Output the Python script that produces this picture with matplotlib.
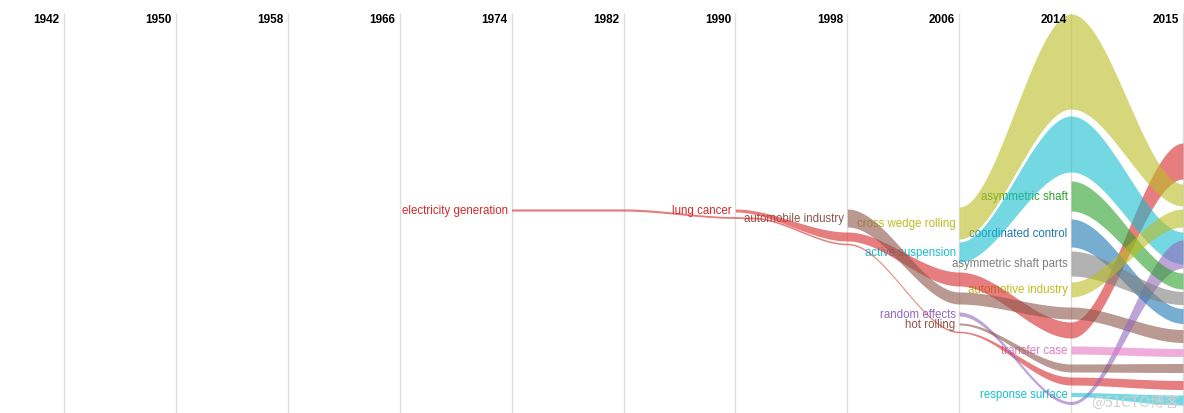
import numpy as np
import matplotlib
matplotlib.use("Agg")
import matplotlib.pyplot as plt

# columns (years) of the timeline
years = ["1942", "1950", "1958", "1966", "1974", "1982", "1990", "1998", "2006", "2014", "2015"]

# each topic flow: label, colour, then waypoints
# (column index, vertical position, band thickness)
flows = [
    ("electricity generation", "#d62728",
     [4, 5, 6, 6.15, 7, 8, 9, 10],
     [211, 211, 218.5, 219, 245, 333, 382, 386],
     [2.2, 2.2, 1.8, 1.8, 1.5, 1.5, 8, 9]),
    ("lung cancer", "#d62728",
     [6, 7, 8, 9, 10],
     [211.5, 237.5, 280, 331, 162],
     [3, 9, 14, 16, 36]),
    ("automobile industry", "#8c564b",
     [7, 8, 9, 10],
     [219, 299, 314, 337],
     [18, 12, 12, 13]),
    ("cross wedge rolling", "#bcbd22",
     [8, 9, 10],
     [224, 62.5, 196],
     [32, 95, 22]),
    ("active suspension", "#17becf",
     [8, 9, 10],
     [253, 145, 249],
     [20, 56, 32]),
    ("random effects", "#9467bd",
     [8, 9, 10],
     [315, 404, 255],
     [4, 3, 28]),
    ("hot rolling", "#8c564b",
     [8, 9, 10],
     [325, 369, 369],
     [2, 8, 9]),
    ("asymmetric shaft", "#2ca02c",
     [9, 10], [197, 282], [30, 16]),
    ("coordinated control", "#1f77b4",
     [9, 10], [234, 317], [28, 15]),
    ("asymmetric shaft parts", "#7f7f7f",
     [9, 10], [264.5, 299], [25, 13]),
    ("automotive industry", "#bcbd22",
     [9, 10], [290.5, 219], [15, 18]),
    ("transfer case", "#e377c2",
     [9, 10], [351, 353.5], [8, 8]),
    ("response surface", "#17becf",
     [9, 10], [395.5, 401], [4, 10]),
]


def smooth_band(cols, ys, ws, n=80):
    xs, yc, wc = [], [], []
    for i in range(len(cols) - 1):
        t = np.linspace(0, 1, n)
        s = 3 * t**2 - 2 * t**3
        xs.append(cols[i] + (cols[i + 1] - cols[i]) * t)
        yc.append(ys[i] + (ys[i + 1] - ys[i]) * s)
        wc.append(ws[i] + (ws[i + 1] - ws[i]) * s)
    return np.concatenate(xs), np.concatenate(yc), np.concatenate(wc)


fig = plt.figure(figsize=(11.84, 4.14), dpi=100)
ax = fig.add_axes([0, 0, 1, 1])
step = (1183 - 64) / 10.0
ax.set_xlim(-64 / step, (1184 - 64) / step)
ax.set_ylim(414, 0)
ax.axis("off")

# year grid
ax.vlines(range(len(years)), 14, 414, color="#dddddd", lw=1, zorder=0)
for i, yr in enumerate(years):
    ax.annotate(yr, (i, 20), xytext=(-3, 0), textcoords="offset points",
                ha="right", va="center", fontsize=8.5, fontweight="bold",
                family="Liberation Sans", color="black")

for label, col, cols, ys, ws in flows:
    x, yc, w = smooth_band(cols, ys, ws)
    ax.fill_between(x, yc - w / 2, yc + w / 2, color=col, alpha=0.6, lw=0, zorder=2)
    ax.annotate(label, (cols[0], ys[0]), xytext=(-2.5, 0), textcoords="offset points",
                ha="right", va="center", fontsize=8.3, family="Liberation Sans",
                color=col, zorder=1)

ax.text(0.996, 0.028, "@51CTO博客", transform=ax.transAxes, ha="right", va="center",
        fontsize=10.5, color="#d0d0d0", family=["Noto Sans CJK SC", "DejaVu Sans"], zorder=3)

fig.savefig("out.png", dpi=100)
